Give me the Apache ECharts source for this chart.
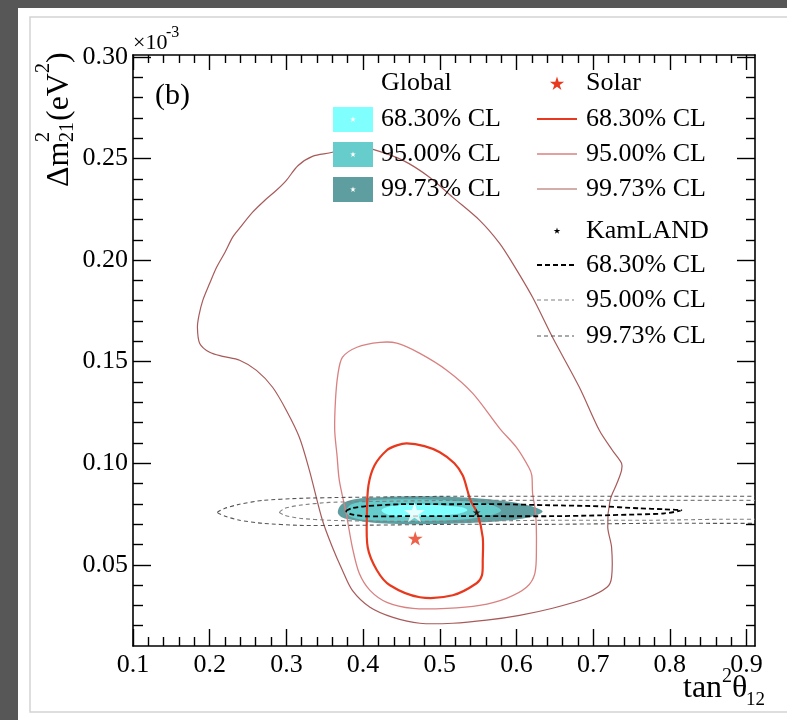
<!DOCTYPE html>
<html><head><meta charset="utf-8">
<script src="https://cdn.jsdelivr.net/npm/echarts@6/dist/echarts.min.js"></script>
<style>html,body{margin:0;padding:0;background:#575757}#c{width:787px;height:720px}</style>
</head><body><div id="c"></div>
<script>
// ---- tick values ----
const xMajorTicks = [0.1,0.2,0.3,0.4,0.5,0.6,0.7,0.8,0.9];
const xMinorTicks = [0.12,0.14,0.16,0.18,0.22,0.24,0.26,0.28,0.32,0.34,0.36,0.38,0.42,0.44,0.46,0.48,
  0.52,0.54,0.56,0.58,0.62,0.64,0.66,0.68,0.72,0.74,0.76,0.78,0.82,0.84,0.86,0.88];
const yMajorTicks = [0.05,0.10,0.15,0.20,0.25,0.30];
const yMinorTicks = [0.02,0.03,0.04,0.06,0.07,0.08,0.09,0.11,0.12,0.13,0.14,0.16,0.17,0.18,0.19,
  0.21,0.22,0.23,0.24,0.26,0.27,0.28,0.29];

// ---- best fit points [tan^2 theta12, dm2_21 (1e-3 eV^2)] ----
const globalBest = [0.467, 0.0758];
const solarBest = [0.468, 0.0630];
const kamlandBest = [0.548, 0.0758];

// ---- Global contours ----
const globalCL99 = [[0.367,0.0758],[0.372,0.0798],[0.389,0.0822],[0.422,0.0832],[0.474,0.0837],[0.526,0.0832],[0.578,0.0817],[0.610,0.0798],[0.634,0.0763],[0.617,0.0734],[0.578,0.0714],[0.526,0.0704],[0.474,0.0699],[0.422,0.0704],[0.389,0.0719],[0.372,0.0734]];
const globalCL95 = [[0.378,0.0763],[0.385,0.0798],[0.409,0.0817],[0.461,0.0822],[0.513,0.0817],[0.559,0.0803],[0.580,0.0768],[0.562,0.0739],[0.513,0.0719],[0.461,0.0714],[0.409,0.0719],[0.385,0.0734]];
const globalCL68 = [[0.424,0.0768],[0.435,0.0788],[0.461,0.0798],[0.500,0.0793],[0.529,0.0783],[0.536,0.0768],[0.526,0.0753],[0.500,0.0743],[0.461,0.0738],[0.435,0.0743]];

// ---- Solar contours ----
const solarCL68 = [[0.457,0.1098],[0.480,0.1084],[0.500,0.1054],[0.519,0.1000],[0.530,0.0940],[0.536,0.0867],[0.540,0.0817],[0.549,0.0753],[0.556,0.0635],[0.556,0.0522],[0.555,0.0448],[0.548,0.0409],[0.517,0.0350],[0.474,0.0340],[0.435,0.0399],[0.418,0.0473],[0.406,0.0586],[0.405,0.0753],[0.407,0.0891],[0.415,0.0990],[0.431,0.1064],[0.444,0.1088]];
const solarCL95 = [[0.373,0.1521],[0.392,0.1571],[0.422,0.1595],[0.444,0.1591],[0.474,0.1541],[0.509,0.1458],[0.543,0.1344],[0.578,0.1172],[0.600,0.1078],[0.616,0.0980],[0.620,0.0940],[0.621,0.0852],[0.625,0.0753],[0.626,0.0586],[0.624,0.0458],[0.613,0.0389],[0.587,0.0335],[0.552,0.0300],[0.509,0.0285],[0.465,0.0285],[0.431,0.0315],[0.409,0.0374],[0.395,0.0458],[0.386,0.0586],[0.378,0.0753],[0.369,0.0916],[0.366,0.1039],[0.363,0.1162],[0.364,0.1310],[0.367,0.1433]];
const solarCL99 = [[0.360,0.2531],[0.376,0.2555],[0.396,0.2555],[0.413,0.2545],[0.452,0.2491],[0.487,0.2407],[0.517,0.2309],[0.552,0.2196],[0.578,0.2083],[0.595,0.1984],[0.621,0.1817],[0.647,0.1620],[0.682,0.1374],[0.708,0.1162],[0.725,0.1064],[0.737,0.1000],[0.737,0.0965],[0.731,0.0901],[0.722,0.0817],[0.719,0.0685],[0.724,0.0586],[0.724,0.0438],[0.718,0.0389],[0.691,0.0335],[0.647,0.0286],[0.604,0.0251],[0.561,0.0227],[0.517,0.0212],[0.474,0.0212],[0.439,0.0241],[0.409,0.0291],[0.386,0.0374],[0.373,0.0473],[0.360,0.0586],[0.347,0.0719],[0.330,0.0965],[0.317,0.1127],[0.300,0.1260],[0.282,0.1374],[0.261,0.1457],[0.239,0.1507],[0.217,0.1526],[0.200,0.1546],[0.187,0.1590],[0.184,0.1669],[0.186,0.1728],[0.191,0.1802],[0.200,0.1886],[0.209,0.1965],[0.220,0.2039],[0.230,0.2113],[0.239,0.2157],[0.256,0.2236],[0.272,0.2295],[0.287,0.2344],[0.300,0.2393],[0.315,0.2465],[0.334,0.2511]];

// ---- KamLAND contours (95% and 99.73% run off the right edge) ----
const kamlandCL68 = [[0.378,0.0763],[0.385,0.0778],[0.402,0.0788],[0.448,0.0798],[0.513,0.0798],[0.578,0.0798],[0.643,0.0793],[0.708,0.0788],[0.760,0.0778],[0.793,0.0773],[0.815,0.0768],[0.793,0.0753],[0.760,0.0748],[0.708,0.0743],[0.643,0.0739],[0.578,0.0739],[0.513,0.0739],[0.448,0.0739],[0.402,0.0739],[0.385,0.0748]];
const kamlandCL95 = [[0.291,0.0758],[0.298,0.0778],[0.317,0.0793],[0.356,0.0807],[0.422,0.0812],[0.513,0.0817],[0.643,0.0817],[0.773,0.0817],[0.865,0.0817],[0.943,0.0817],[1.05,0.0817],[1.20,0.0817],[1.20,0.0724],[1.05,0.0724],[0.943,0.0724],[0.865,0.0724],[0.773,0.0719],[0.643,0.0719],[0.513,0.0714],[0.422,0.0714],[0.356,0.0719],[0.317,0.0729],[0.298,0.0743]];
const kamlandCL99 = [[0.210,0.0758],[0.220,0.0778],[0.239,0.0798],[0.269,0.0817],[0.317,0.0827],[0.382,0.0832],[0.513,0.0837],[0.643,0.0837],[0.773,0.0837],[0.865,0.0837],[0.943,0.0837],[1.05,0.0837],[1.20,0.0837],[1.20,0.0704],[1.05,0.0704],[0.943,0.0704],[0.865,0.0704],[0.773,0.0704],[0.643,0.0699],[0.513,0.0699],[0.382,0.0694],[0.317,0.0694],[0.269,0.0704],[0.239,0.0719],[0.220,0.0739]];

const legendLabels = ['68.30% CL','95.00% CL','99.73% CL'];

const FONT = '"Liberation Serif","DejaVu Serif",serif';
const STAR = 'M0,-10L2.245,-3.09L9.51,-3.09L3.633,1.18L5.88,8.09L0,3.82L-5.88,8.09L-3.633,1.18L-9.51,-3.09L-2.245,-3.09Z';

const XMIN = 0.1, XMAX = 0.911, YMIN = 0.01, YMAX = 0.301;

function xAxisDef(pos, ticks, len, showLine, showLabel) {
  return {
    type: 'value', min: XMIN, max: XMAX, position: pos, gridIndex: 0,
    splitLine: { show: false },
    axisLine: { show: showLine, onZero: false, lineStyle: { color: '#000', width: 1.6 } },
    axisTick: { show: true, inside: true, length: len, customValues: ticks, lineStyle: { color: '#000', width: 1.4 } },
    axisLabel: showLabel ? { show: true, customValues: ticks, margin: 6, color: '#000', fontSize: 26, fontFamily: FONT,
      formatter: v => v.toFixed(1) } : { show: false }
  };
}
function yAxisDef(pos, ticks, len, showLine, showLabel) {
  return {
    type: 'value', min: YMIN, max: YMAX, position: pos, gridIndex: 0,
    splitLine: { show: false },
    axisLine: { show: showLine, onZero: false, lineStyle: { color: '#000', width: 1.6 } },
    axisTick: { show: true, inside: true, length: len, customValues: ticks, lineStyle: { color: '#000', width: 1.4 } },
    axisLabel: showLabel ? { show: true, customValues: ticks, margin: 5, color: '#000', fontSize: 26, fontFamily: FONT,
      formatter: v => v.toFixed(2) } : { show: false }
  };
}

function contour(name, pts, style, z, smooth) {
  return {
    type: 'custom', name: name, coordinateSystem: 'cartesian2d', xAxisIndex: 0, yAxisIndex: 0,
    clip: true, silent: true, z: z, data: [[0.5, 0.1]],
    renderItem: function (params, api) {
      return { type: 'polygon', shape: { points: pts.map(p => api.coord(p)), smooth: smooth }, style: style };
    }
  };
}

function txt(text, x, y, size) {
  return { type: 'text', x: x, y: y, z: 100,
    style: { text: text, font: size + 'px ' + FONT, fill: '#000', align: 'left', verticalAlign: 'middle' } };
}
function rtxt(text, x, y, size) {
  return { type: 'text', x: x, y: y, rotation: Math.PI / 2, z: 100,
    style: { text: text, font: size + 'px ' + FONT, fill: '#000', align: 'left', verticalAlign: 'middle' } };
}
// legend star glyph as a polygon (icon geometry only)
function star(cx, cy, s, color) {
  const pts = [];
  const R = s / 2, r = R * 0.382;
  for (let k = 0; k < 10; k++) {
    const a = -Math.PI / 2 + k * Math.PI / 5;
    const rr = k % 2 === 0 ? R : r;
    pts.push([cx + rr * Math.cos(a), cy + rr * Math.sin(a)]);
  }
  return { type: 'polygon', z: 101, shape: { points: pts }, style: { fill: color } };
}
function hline(x1, x2, y, color, w, dash) {
  return { type: 'line', z: 100, shape: { x1: x1, y1: y, x2: x2, y2: y }, style: { stroke: color, lineWidth: w, lineDash: dash || null } };
}

const globalColors = ['#80ffff', '#66cccc', '#5f9ea0'];
const solarStyles = [['#e8391e', 2.2], ['#d98080', 1.3], ['#a85a5a', 1.2]];
const kamStyles = [['#000', 1.8, [5, 3]], ['#808080', 1.1, [4, 3]], ['#555', 1.1, [4, 3]]];
const rowY = [119, 154, 189];
const kamRowY = [265, 300, 336];

const graphics = [
  { type: 'rect', z: -10, shape: { x: 18, y: 8, width: 780, height: 720 }, style: { fill: '#ffffff' } },
  { type: 'rect', z: -9, shape: { x: 30, y: 17, width: 770, height: 695 }, style: { fill: 'none', stroke: '#d4d4d4', lineWidth: 1.5 } },
  // x10^-3
  txt('\u00d710', 133, 43, 22),
  txt('-3', 166, 33, 16),
  // (b)
  txt('(b)', 155, 96, 30),
  // y title
  rtxt('\u0394m', 60, 187, 32),
  rtxt('2', 44, 142, 20),
  rtxt('21', 68, 142, 20),
  rtxt('(eV', 60, 121, 32),
  rtxt('2', 44, 73, 20),
  rtxt(')', 60, 63, 32),
  // x title
  txt('tan', 683, 689, 32),
  txt('2', 722, 677, 20),
  txt('\u03b8', 732, 689, 32),
  txt('12', 746, 700, 19),
  // legend: Global
  txt('Global', 381, 83, 26)
];
for (let i = 0; i < 3; i++) {
  graphics.push({ type: 'rect', z: 100, shape: { x: 333, y: rowY[i] - 12, width: 40, height: 25 }, style: { fill: globalColors[i] } });
  graphics.push(star(353, rowY[i] + 0.5, 6, '#ffffff'));
  graphics.push(txt(legendLabels[i], 381, rowY[i], 26));
  graphics.push(hline(537, 577, rowY[i], solarStyles[i][0], solarStyles[i][1]));
  graphics.push(txt(legendLabels[i], 586, rowY[i], 26));
  graphics.push(hline(537, 574, kamRowY[i], kamStyles[i][0], kamStyles[i][1], kamStyles[i][2]));
  graphics.push(txt(legendLabels[i], 586, kamRowY[i], 26));
}
graphics.push(star(557, 84, 15, '#e8391e'));
graphics.push(txt('Solar', 586, 83, 26));
graphics.push(star(557, 231, 7, '#000'));
graphics.push(txt('KamLAND', 586, 231, 26));

const chart = echarts.init(document.getElementById('c'), null, { renderer: 'canvas' });
chart.setOption({
  animation: false,
  backgroundColor: '#575757',
  grid: { left: 133, top: 55, width: 622, height: 591, containLabel: false, show: false },
  xAxis: [
    xAxisDef('bottom', xMajorTicks, 17, true, true),
    xAxisDef('bottom', xMinorTicks, 9, false, false),
    xAxisDef('top', xMajorTicks, 15, true, false),
    xAxisDef('top', xMinorTicks, 8, false, false)
  ],
  yAxis: [
    yAxisDef('left', yMajorTicks, 18, true, true),
    yAxisDef('left', yMinorTicks, 10, false, false),
    yAxisDef('right', yMajorTicks, 18, true, false),
    yAxisDef('right', yMinorTicks, 9, false, false)
  ],
  graphic: { elements: graphics },
  series: [
    contour('Global 99.73% CL', globalCL99, { fill: globalColors[2], stroke: null }, 2, 0.35),
    contour('Global 95.00% CL', globalCL95, { fill: globalColors[1], stroke: null }, 3, 0.35),
    contour('Global 68.30% CL', globalCL68, { fill: globalColors[0], stroke: null }, 4, 0.35),
    contour('Solar 99.73% CL', solarCL99, { fill: 'none', stroke: solarStyles[2][0], lineWidth: solarStyles[2][1] }, 5, 0.3),
    contour('Solar 95.00% CL', solarCL95, { fill: 'none', stroke: solarStyles[1][0], lineWidth: solarStyles[1][1] }, 5, 0.3),
    contour('Solar 68.30% CL', solarCL68, { fill: 'none', stroke: solarStyles[0][0], lineWidth: solarStyles[0][1] }, 6, 0.3),
    contour('KamLAND 99.73% CL', kamlandCL99, { fill: 'none', stroke: kamStyles[2][0], lineWidth: kamStyles[2][1], lineDash: kamStyles[2][2] }, 7, 0.2),
    contour('KamLAND 95.00% CL', kamlandCL95, { fill: 'none', stroke: kamStyles[1][0], lineWidth: kamStyles[1][1], lineDash: kamStyles[1][2] }, 7, 0.2),
    contour('KamLAND 68.30% CL', kamlandCL68, { fill: 'none', stroke: kamStyles[0][0], lineWidth: kamStyles[0][1], lineDash: kamStyles[0][2] }, 8, 0.25),
    { type: 'scatter', name: 'Global best fit', data: [globalBest], symbol: 'path://' + STAR, symbolKeepAspect: true,
      symbolSize: 21, itemStyle: { color: '#ffffff' }, z: 10, silent: true },
    { type: 'scatter', name: 'Solar best fit', data: [solarBest], symbol: 'path://' + STAR, symbolKeepAspect: true,
      symbolSize: 15, itemStyle: { color: '#e8391e' }, z: 10, silent: true },
    { type: 'scatter', name: 'KamLAND best fit', data: [kamlandBest], symbol: 'path://' + STAR, symbolKeepAspect: true,
      symbolSize: 8, itemStyle: { color: '#000' }, z: 10, silent: true }
  ]
});
</script></body></html>
